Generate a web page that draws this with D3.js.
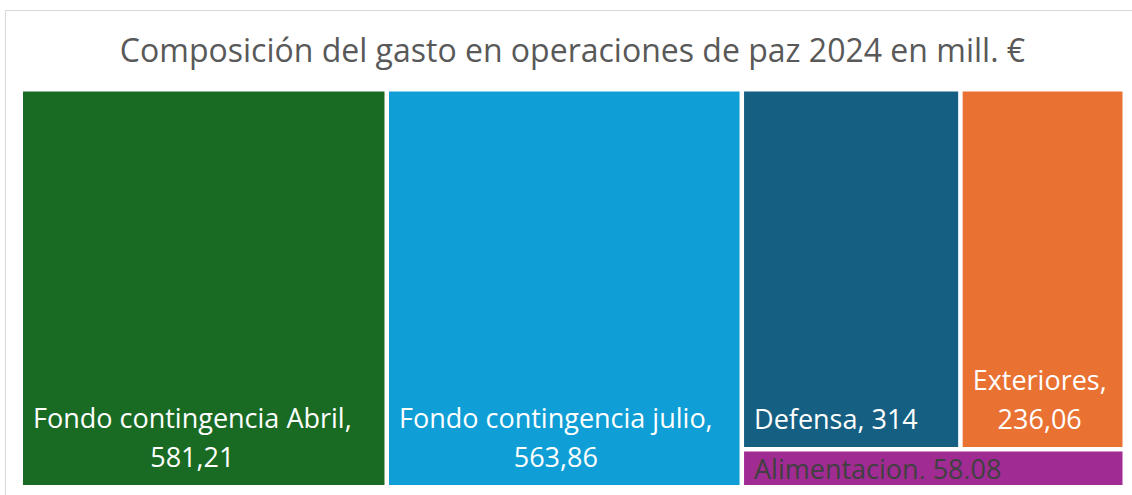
<html>
<head>
  <meta charset="utf-8">
  <title>Composición del gasto en operaciones de paz 2024</title>
  <script src="https://d3js.org/d3.v7.min.js"></script>
  <style>
    body { margin: 0; background: #fff; }
    text { font-family: "Open Sans", Roboto, sans-serif; }
  </style>
</head>
<body>
<script>
// data
var names = ["Fondo contingencia Abril", "Fondo contingencia julio", "Defensa", "Exteriores", "Alimentacion"];
var values = [581.21, 563.86, 314, 236.06, 58.08];
var colors = ["#196B24", "#0F9ED5", "#156082", "#E97132", "#A02B93"];
var labelColors = ["#fff", "#fff", "#fff", "#fff", "#404040"];
var title = "Composición del gasto en operaciones de paz 2024 en mill. €";

var width = 1132, height = 495;

var svg = d3.select("body").append("svg")
  .attr("width", width)
  .attr("height", height);

// chart border
svg.append("rect")
  .attr("x", 5.5).attr("y", 10.5)
  .attr("width", 1140).attr("height", 500)
  .attr("fill", "#fff")
  .attr("stroke", "#d9d9d9");

svg.append("text")
  .attr("x", 572.5).attr("y", 62)
  .attr("text-anchor", "middle")
  .attr("font-size", 32)
  .attr("fill", "#595959")
  .text(title);

// layout like excel: two big columns, then a block with a row on top and the small one below
var leaves = names.map(function(n, i) { return { name: n, value: values[i], i: i }; });
var tree = {
  children: [
    leaves[0],
    leaves[1],
    { children: [ { children: [leaves[2], leaves[3]] }, leaves[4] ] }
  ]
};

var root = d3.hierarchy(tree).sum(function(d) { return d.value || 0; });

d3.treemap()
  .size([1099.5, 393.5])
  .paddingInner(4.5)
  .tile(function(node, x0, y0, x1, y1) {
    (node.depth % 2 === 0 ? d3.treemapDice : d3.treemapSlice)(node, x0, y0, x1, y1);
  })(root);

var fmt = d3.formatLocale({ decimal: ",", thousands: ".", grouping: [3], currency: ["", " €"] }).format(".2~f");

var g = svg.append("g").attr("transform", "translate(23,91.5)");

var cell = g.selectAll("g.cell")
  .data(root.leaves())
  .enter().append("g")
  .attr("class", "cell");

cell.append("rect")
  .attr("x", function(d) { return d.x0; })
  .attr("y", function(d) { return d.y0; })
  .attr("width", function(d) { return d.x1 - d.x0; })
  .attr("height", function(d) { return d.y1 - d.y0; })
  .attr("fill", function(d) { return colors[d.data.i]; });

cell.append("clipPath")
  .attr("id", function(d) { return "clip" + d.data.i; })
  .append("rect")
  .attr("x", function(d) { return d.x0; })
  .attr("y", function(d) { return d.y0; })
  .attr("width", function(d) { return d.x1 - d.x0; })
  .attr("height", function(d) { return d.y1 - d.y0 - 6; });

var fontSize = 27, lineH = 39, pad = 10;

cell.each(function(d) {
  var c = d3.select(this);
  var t = c.append("text")
    .attr("clip-path", "url(#clip" + d.data.i + ")")
    .attr("font-size", fontSize)
    .attr("fill", labelColors[d.data.i])
    .attr("text-anchor", "middle");

  var full = d.data.name + ", " + fmt(d.data.value);
  var lines = [full];
  var probe = t.append("tspan").text(full);
  var w = probe.node().getComputedTextLength();
  probe.remove();
  if (w > (d.x1 - d.x0) - 2 * pad) lines = [d.data.name + ",", fmt(d.data.value)];

  var widths = lines.map(function(s) {
    var p = t.append("tspan").text(s);
    var lw = p.node().getComputedTextLength();
    p.remove();
    return lw;
  });
  var blockW = d3.max(widths);
  var cx = d.x0 + pad + blockW / 2;
  var lastBase = Math.max(d.y1 - 18, d.y0 + 8 + fontSize * 0.72);
  var firstBase = lastBase - (lines.length - 1) * lineH;

  lines.forEach(function(s, k) {
    t.append("tspan")
      .attr("x", cx)
      .attr("y", firstBase + k * lineH)
      .text(s);
  });
});
</script>
</body>
</html>
